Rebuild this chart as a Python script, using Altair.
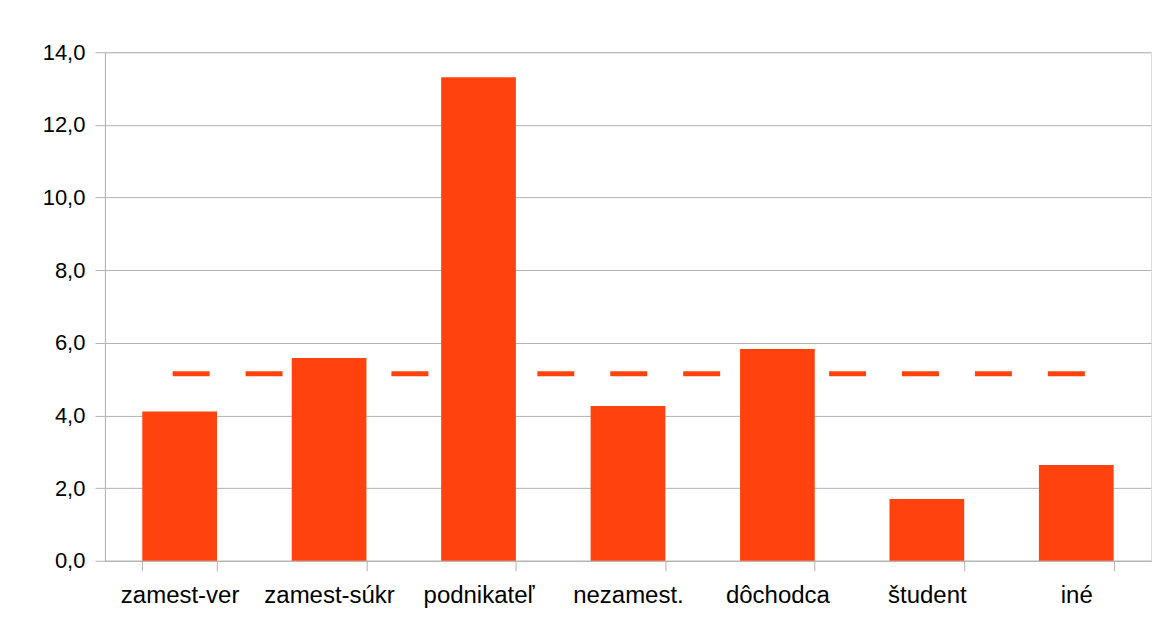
import altair as alt
import pandas as pd

categories = ["zamest-ver", "zamest-súkr", "podnikateľ", "nezamest.", "dôchodca", "študent", "iné"]
values = [4.11, 5.58, 13.31, 4.26, 5.83, 1.70, 2.64]
average_value = 5.15

df = pd.DataFrame({"cat": categories, "val": values})
avg_df = pd.DataFrame({"start": [categories[0]], "end": [categories[-1]], "avg": [average_value]})

COLOR = "#ff420e"
GRID = "#b3b3b3"
FONT = "Liberation Sans"

xscale = alt.Scale(domain=categories, paddingInner=0.5, paddingOuter=0.25)

x = alt.X(
    "cat:N",
    title=None,
    scale=xscale,
    axis=alt.Axis(
        labelAngle=0,
        labelAlign="center",
        labelBaseline="alphabetic",
        labelFont=FONT,
        labelFontSize=24,
        labelColor="#000000",
        labelPadding=32,
        tickBand="extent",
        tickSize=10,
        tickColor=GRID,
        domainColor=GRID,
        grid=False,
    ),
)

bars = alt.Chart(df).mark_bar(color=COLOR).encode(
    x=x,
    y=alt.Y(
        "val:Q",
        title=None,
        scale=alt.Scale(domain=[0, 14], nice=False),
        axis=alt.Axis(
            values=[0, 2, 4, 6, 8, 10, 12, 14],
            labelExpr="replace(format(datum.value, '.1f'), '.', ',')",
            labelFont=FONT,
            labelFontSize=22,
            labelColor="#000000",
            labelPadding=10,
            tickSize=10,
            tickColor=GRID,
            domainColor=GRID,
            gridColor=GRID,
            gridWidth=1,
        ),
    ),
)

line = alt.Chart(avg_df).mark_rule(
    color=COLOR, strokeWidth=5, strokeDash=[37, 36], strokeCap="butt", xOffset=-7, x2Offset=12
).encode(
    x=alt.X("start:N", scale=xscale),
    x2="end:N",
    y=alt.Y("avg:Q"),
)

chart = (
    alt.layer(line, bars)
    .properties(
        width=1047,
        height=509,
        autosize=alt.AutoSizeParams(type="none"),
        padding={"left": 97, "top": 44, "right": 2, "bottom": 50},
    )
    .configure_view(stroke=GRID, strokeWidth=1)
    .configure(background="#ffffff")
)

chart.save("out.html", embed_options={"renderer": "svg", "actions": False})
